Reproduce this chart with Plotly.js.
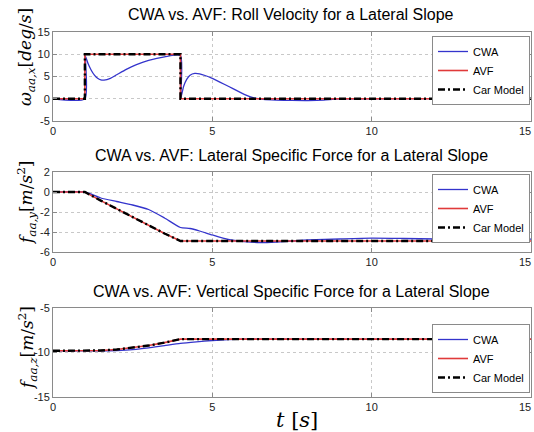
<!DOCTYPE html>
<html><head><meta charset="utf-8">
<script src="https://cdn.plot.ly/plotly-3.0.1.min.js"></script>
<style>html,body{margin:0;padding:0;background:#fff}#c{width:534px;height:432px}</style>
</head><body><div id="c"></div>
<script>
// ---------- data ----------
const seriesNames = ["CWA", "AVF", "Car Model"];
// Panel 1: roll velocity [deg/s]
const rollCarT   = [0, 1, 1, 4, 4, 15];
const rollCarV   = [0, 0, 10, 10, 0, 0];
const rollAvfT   = [0, 1, 1, 4, 4, 15];
const rollAvfV   = [0, 0, 10, 10, 0, 0];
const rollCwaT   = [0, 1, 1.02, 1.1, 1.2, 1.3, 1.4, 1.5, 1.6, 1.8, 2.0, 2.3, 2.6, 3.0, 3.5, 4.0, 4.01, 4.1, 4.2, 4.3, 4.45, 4.6, 5.0, 5.5, 6.0, 6.3, 6.6, 7.0, 7.5, 8.0, 8.5, 9.0, 15];
const rollCwaV   = [0, 0, 9.5, 7.9, 6.4, 5.3, 4.6, 4.25, 4.2, 4.6, 5.4, 6.6, 7.6, 8.6, 9.4, 9.7, 0.2, 2.8, 4.4, 5.3, 5.7, 5.6, 4.6, 2.8, 1.0, 0.2, -0.15, -0.3, -0.38, -0.4, -0.3, -0.05, 0];
// Panel 2: lateral specific force [m/s^2]
const latCarT = [0, 1, 1.5, 2, 2.5, 3, 3.5, 4, 15];
const latCarV = [0, 0, -0.86, -1.70, -2.54, -3.36, -4.15, -4.9, -4.9];
const latAvfV = [0, 0, -0.86, -1.70, -2.54, -3.36, -4.15, -4.9, -4.9];
const latCwaT = [0, 1, 1.5, 2, 2.5, 3, 3.5, 4, 4.3, 4.6, 5, 5.5, 6, 6.5, 7, 7.5, 8, 9, 10, 11, 12, 13, 14, 15];
const latCwaV = [0, 0, -0.6, -0.95, -1.3, -1.75, -2.6, -3.55, -3.65, -3.9, -4.3, -4.75, -4.95, -5.05, -5.0, -4.9, -4.8, -4.7, -4.62, -4.65, -4.7, -4.72, -4.72, -4.72];
// Panel 3: vertical specific force [m/s^2]
const vertCarT = [0, 1, 1.5, 2, 2.5, 3, 3.5, 4, 15];
const vertCarV = [-9.81, -9.81, -9.77, -9.66, -9.48, -9.22, -8.89, -8.5, -8.5];
const vertAvfV = [-9.81, -9.81, -9.77, -9.66, -9.48, -9.22, -8.89, -8.5, -8.5];
const vertCwaT = [0, 1, 1.5, 2, 2.5, 3, 3.5, 4, 4.5, 5, 5.5, 6, 15];
const vertCwaV = [-9.81, -9.81, -9.82, -9.78, -9.68, -9.48, -9.22, -8.97, -8.8, -8.65, -8.55, -8.5, -8.52];
const titles = [
  "CWA vs. AVF: Roll Velocity for a Lateral Slope",
  "CWA vs. AVF: Lateral Specific Force for a Lateral Slope",
  "CWA vs. AVF: Vertical Specific Force for a Lateral Slope"
];
const yLabels = [
  "<i>ω</i><sub><i>aa,x</i></sub>[<i>deg</i>/<i>s</i>]",
  "<i>f</i><sub><i>aa,y</i></sub>[<i>m</i>/<i>s</i><sup>2</sup>]",
  "<i>f</i><sub><i>aa,z</i></sub>[<i>m</i>/<i>s</i><sup>2</sup>]"
];
const xLabel = "<i>t</i> [<i>s</i>]";
const xTicks = [0, 5, 10, 15];

// ---------- layout helpers ----------
const W = 534, H = 432, L = 53, R = 3;
const PW = W - L - R;
const px = x => (x - L) / PW;
const py = y => (H - y) / H;

const BLUE = "#3434cc", RED = "#e03a3a", BLACK = "#000000";
const panels = [
  {cwa: [rollCwaT, rollCwaV], avf: [rollAvfT, rollAvfV], car: [rollCarT, rollCarV]},
  {cwa: [latCwaT, latCwaV], avf: [latCarT, latAvfV], car: [latCarT, latCarV]},
  {cwa: [vertCwaT, vertCwaV], avf: [vertCarT, vertAvfV], car: [vertCarT, vertCarV]}
];
const traces = [];
panels.forEach((p, i) => {
  const ax = i === 0 ? "" : String(i + 1);
  const lg = i === 0 ? "legend" : "legend" + (i + 1);
  const common = {type: "scatter", mode: "lines", xaxis: "x" + ax, yaxis: "y" + ax, legend: lg, hoverinfo: "skip", cliponaxis: true};
  traces.push(Object.assign({}, common, {x: p.cwa[0], y: p.cwa[1], name: seriesNames[0], line: {color: BLUE, width: 1.3, shape: "spline", smoothing: 0.6}}));
  traces.push(Object.assign({}, common, {x: p.avf[0], y: p.avf[1], name: seriesNames[1], line: {color: RED, width: 1.6}}));
  traces.push(Object.assign({}, common, {x: p.car[0], y: p.car[1], name: seriesNames[2], line: {color: BLACK, width: 2.4, dash: "7px,3px,2px,3px"}}));
});

const boxes = [[32, 121], [172, 252], [308, 397]];
const yRanges = [[-5, 15], [-6, 2], [-15, -5]];
const yTicks = [[-5, 0, 5, 10, 15], [-6, -4, -2, 0, 2], [-15, -10, -5]];
const legendPos = [[36, "top"], [174, "top"], [393, "bottom"]];
const titleY = [15, 155, 291];
const yLabelPos = [[27, 57], [26, 203], [27, 348]];

const axisBase = {
  showline: true, linecolor: "#8a8a8a", linewidth: 1, mirror: "ticks",
  ticks: "inside", ticklen: 4, tickcolor: "#8a8a8a",
  showgrid: true, gridcolor: "#c8c8c8", griddash: "dot", gridwidth: 1,
  zeroline: false, tickfont: {family: "Liberation Sans, Arial, sans-serif", size: 11, color: "#222"}
};

const layout = {
  width: W, height: H, autosize: false,
  margin: {l: L, r: R, t: 0, b: 0, pad: 0},
  paper_bgcolor: "#fff", plot_bgcolor: "#fff",
  showlegend: true, annotations: []
};
for (let i = 0; i < 3; i++) {
  const ax = i === 0 ? "" : String(i + 1);
  layout["xaxis" + ax] = Object.assign({}, axisBase, {
    domain: [0, 1], range: [0, 15], tickvals: xTicks, ticktext: xTicks.map(String),
    anchor: "y" + ax, fixedrange: true
  });
  layout["yaxis" + ax] = Object.assign({}, axisBase, {
    domain: [py(boxes[i][1]), py(boxes[i][0])], range: yRanges[i], tickvals: yTicks[i],
    ticktext: yTicks[i].map(v => v < 0 ? "-" + Math.abs(v) : String(v)),
    anchor: "x" + ax, fixedrange: true
  });
  const lg = i === 0 ? "legend" : "legend" + (i + 1);
  layout[lg] = {
    x: px(530), xanchor: "right", y: py(legendPos[i][0]), yanchor: legendPos[i][1],
    bgcolor: "#fff", bordercolor: "#8a8a8a", borderwidth: 1,
    font: {family: "Liberation Sans, Arial, sans-serif", size: 11, color: "#000"},
    tracegroupgap: 0, itemwidth: 30
  };
  layout.annotations.push({
    text: titles[i], xref: "paper", yref: "paper", x: px(291), y: py(titleY[i]),
    xanchor: "center", yanchor: "middle", showarrow: false,
    font: {family: "Liberation Sans, Arial, sans-serif", size: 16, color: "#000"}
  });
  layout.annotations.push({
    text: yLabels[i], xref: "paper", yref: "paper", x: px(yLabelPos[i][0]), y: py(yLabelPos[i][1]),
    xanchor: "center", yanchor: "middle", showarrow: false, textangle: -90,
    font: {family: "DejaVu Serif, serif", size: 17, color: "#000"}
  });
  // x tick label "15" kept fully inside the figure's right edge
  layout.annotations.push({
    text: "15", xref: "paper", yref: "paper", x: px(533), y: py(boxes[i][1] + 10),
    xanchor: "right", yanchor: "middle", showarrow: false,
    font: {family: "Liberation Sans, Arial, sans-serif", size: 11, color: "#222"}
  });
}
layout.annotations.push({
  text: xLabel, xref: "paper", yref: "paper", x: px(297), y: py(420),
  xanchor: "center", yanchor: "middle", showarrow: false,
  font: {family: "DejaVu Serif, serif", size: 21, color: "#000"}
});

Plotly.newPlot("c", traces, layout, {staticPlot: true, displayModeBar: false});
</script></body></html>
